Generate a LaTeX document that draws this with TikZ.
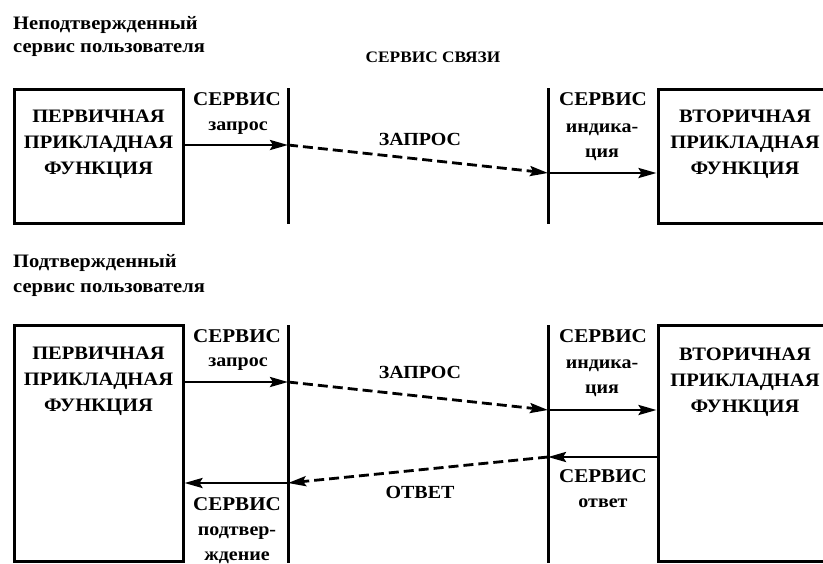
\documentclass[tikz,border=0pt]{standalone}
\usepackage{fontspec}
\setmainfont{Liberation Serif}[FakeStretch=1.08]
\usetikzlibrary{arrows.meta}
\usetikzlibrary{calc}
\tikzset{
  fbox/.style={draw, line width=3pt, minimum width=169pt, minimum height=134pt, inner sep=0pt},
  ftxt/.style={font=\fontsize{19}{26}\selectfont\bfseries, align=center, anchor=base},
  ttl/.style={font=\fontsize{19}{24}\selectfont\bfseries, anchor=base west, inner sep=0pt},
  lnk/.style={font=\fontsize{16}{20}\selectfont\bfseries, anchor=base, inner sep=0pt},
  svc/.style={font=\fontsize{19.5}{24}\selectfont\bfseries, anchor=base, inner sep=0pt},
  sml/.style={font=\fontsize{18.5}{24}\selectfont\bfseries, anchor=base, inner sep=0pt},
  msg/.style={font=\fontsize{18.5}{24}\selectfont\bfseries, anchor=base, inner sep=0pt},
  sap/.style={line width=3pt},
  sarr/.style={line width=2.8pt, -{Stealth[length=18pt,width=10pt,inset=3pt]}},
  darr/.style={sarr, dash pattern=on 10pt off 5pt},
}
\begin{document}
\begin{tikzpicture}[x=1pt,y=-1pt]
\useasboundingbox (0,0) rectangle (823,563);
% unconfirmed service
\node[ttl] (t1) at (13,29) {Неподтвержденный};
\node[ttl] (t1b) at (13,52) {сервис пользователя};
\node[lnk] (link) at (433,62) {СЕРВИС СВЯЗИ};
\node[fbox] (pa) at (98.5,156) {};
\node[ftxt] (pat) at (98.5,174) {ПЕРВИЧНАЯ\\ПРИКЛАДНАЯ\\ФУНКЦИЯ};
\node[fbox] (sa) at (742.5,156) {};
\node[ftxt] (sat) at (745,174) {ВТОРИЧНАЯ\\ПРИКЛАДНАЯ\\ФУНКЦИЯ};
\draw[sap] (288,88) -- (288,224);
\draw[sap] (548,88) -- (548,224);
\coordinate (rqa) at (288,145);
\coordinate (ina) at (548,173);
\draw[sarr] (pa.east |- rqa) -- (rqa);
\draw[darr] (rqa) -- (ina);
\draw[sarr] (ina) -- (ina -| sa.west);
\node[svc] (sv1) at (237,105) {СЕРВИС};
\node[sml] (sv1q) at (238,130) {запрос};
\node[msg] (rq1) at (420,145) {ЗАПРОС};
\node[svc] (sv2) at (603,105) {СЕРВИС};
\node[sml] (sv2q) at (602,132) {индика-};
\node[sml] (sv2r) at (602,157) {ция};
% confirmed service
\node[ttl] (t2) at (13,267) {Подтвержденный};
\node[ttl] (t2b) at (13,292) {сервис пользователя};
\node[fbox, minimum height=236pt] (pb) at (98.5,443) {};
\node[ftxt] (pbt) at (98.5,411) {ПЕРВИЧНАЯ\\ПРИКЛАДНАЯ\\ФУНКЦИЯ};
\node[fbox, minimum height=236pt] (sb) at (742.5,443) {};
\node[ftxt] (sbt) at (745,412) {ВТОРИЧНАЯ\\ПРИКЛАДНАЯ\\ФУНКЦИЯ};
\draw[sap] (288,325) -- (288,563);
\draw[sap] (548,325) -- (548,563);
\coordinate (rqb) at (288,382);
\coordinate (inb) at (548,410);
\coordinate (rsb) at (548,457);
\coordinate (cfb) at (288,483);
\draw[sarr] (pb.east |- rqb) -- (rqb);
\draw[darr] (rqb) -- (inb);
\draw[sarr] (inb) -- (inb -| sb.west);
\draw[sarr] (sb.west |- rsb) -- (rsb);
\draw[darr] (rsb) -- (cfb);
\draw[sarr] (cfb) -- (cfb -| pb.east);
\node[svc] (sv3) at (237,342) {СЕРВИС};
\node[sml] (sv3q) at (238,366) {запрос};
\node[msg] (rq2) at (420,378) {ЗАПРОС};
\node[svc] (sv4) at (603,342) {СЕРВИС};
\node[sml] (sv4q) at (602,368) {индика-};
\node[sml] (sv4r) at (602,393) {ция};
\node[svc] (sv5) at (603,482) {СЕРВИС};
\node[sml] (sv5q) at (603,507) {ответ};
\node[msg] (rs2) at (420,498) {ОТВЕТ};
\node[svc] (sv6) at (237,510) {СЕРВИС};
\node[sml] (sv6q) at (237,535) {подтвер-};
\node[sml] (sv6r) at (237,560) {ждение};
\end{tikzpicture}
\end{document}
